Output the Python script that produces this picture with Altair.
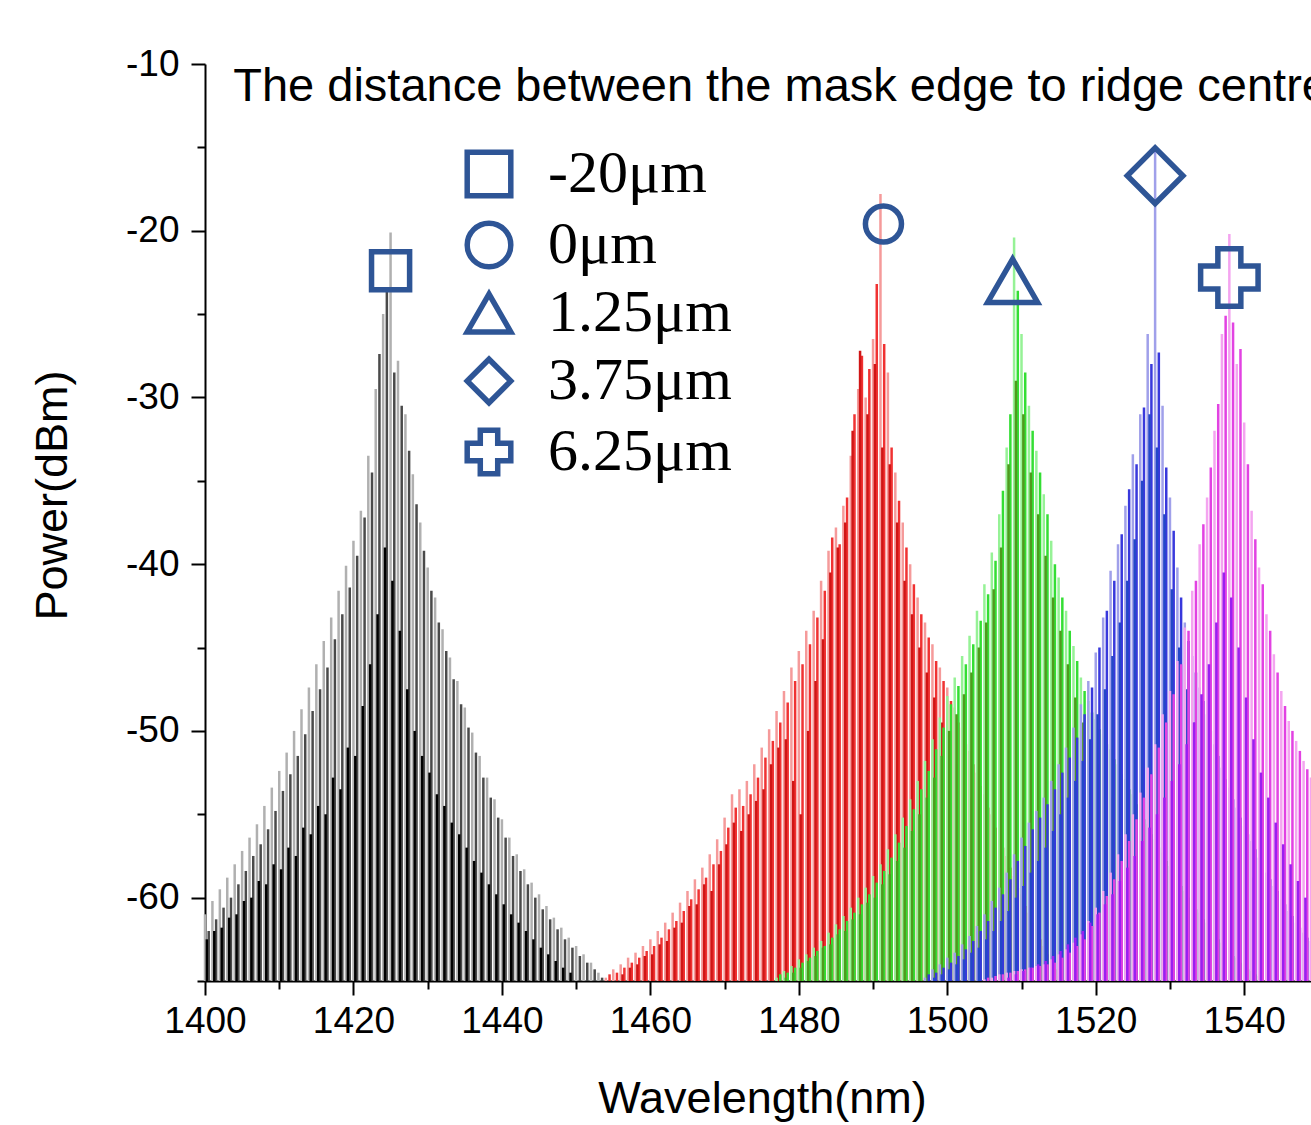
import altair as alt
import pandas as pd

# ---------------- axis ranges / ticks ----------------
X_DOMAIN = [1400, 1549]
Y_DOMAIN = [-65, -10]
X_TICKS = [1400, 1410, 1420, 1430, 1440, 1450, 1460, 1470, 1480, 1490,
           1500, 1510, 1520, 1530, 1540]
Y_TICKS = [-65, -60, -55, -50, -45, -40, -35, -30, -25, -20, -15, -10]

MODE_STEP = 0.5   # nm spacing of the Fabry-Perot modes (outer family)
CORE_STEP = 1.0   # nm spacing of the darker inner family

# ---------------- -20 um (black) ----------------
BLACK_START = 1400.0
BLACK_PEAKS = [
    -61.0, -62.0, -60.2, -61.3, -59.5, -60.6, -58.8, -60.0, -58.0, -59.2,
    -57.2, -58.4, -56.4, -57.5, -55.6, -56.8, -54.5, -55.9, -53.4, -54.8,
    -52.4, -53.6, -51.3, -52.6, -50.0, -51.5, -48.7, -50.2, -47.4, -48.8,
    -46.0, -47.5, -44.6, -46.2, -43.2, -44.5, -41.6, -43.0, -40.1, -41.4,
    -38.6, -39.5, -36.8, -37.2, -33.5, -34.5, -29.5, -27.4, -25.0, -23.4,
    -20.1, -28.5, -27.8, -30.5, -31.0, -33.2, -34.6, -36.4, -37.5, -39.2,
    -40.2, -41.6, -42.0, -43.5, -43.9, -45.2, -45.6, -46.9, -47.0, -48.4,
    -48.6, -49.8, -50.1, -51.3, -51.5, -52.8, -52.8, -54.0, -54.1, -55.2,
    -55.3, -56.4, -56.4, -57.5, -57.4, -58.4, -58.3, -59.2, -59.1, -60.0,
    -59.8, -60.7, -60.5, -61.3, -61.2, -61.9, -61.8, -62.5, -62.4, -63.0,
    -62.9, -63.5, -63.4, -63.9, -63.9, -64.3, -64.5, -64.8,
]
BLACK_CORE_START = 1400.25
BLACK_CORE = [
    -62.5, -62.0, -61.8, -61.2, -61.0, -60.2, -60.0, -59.0, -59.2, -58.0,
    -58.3, -57.0, -57.5, -55.8, -56.2, -54.5, -55.0, -52.8, -53.5, -51.0,
    -51.5, -48.5, -46.0, -43.0, -39.0, -41.0, -44.0, -47.5, -50.0, -51.5,
    -52.5, -53.8, -54.5, -55.5, -56.2, -57.0, -57.8, -58.5, -59.2, -59.8,
    -60.4, -61.0, -61.5, -62.0, -62.5, -63.0, -63.4, -63.8, -64.2, -64.5,
]

# ---------------- 0 um (red) ----------------
RED_START = 1454.0
RED_PEAKS = [
    -64.8, -64.6, -64.3, -64.5, -64.0, -64.2, -63.6, -63.9, -63.3, -63.6,
    -62.9, -63.2, -62.5, -62.9, -62.0, -62.4, -61.5, -61.9, -60.9, -61.4,
    -60.3, -60.8, -59.6, -60.1, -58.9, -59.5, -58.2, -58.8, -57.4, -58.0,
    -56.5, -57.2, -55.2, -55.8, -53.8, -54.6, -53.5, -54.5, -53.0, -53.8,
    -52.0, -52.8, -51.0, -51.6, -49.9, -50.6, -48.8, -49.5, -47.6, -48.3,
    -46.2, -47.0, -45.2, -46.0, -44.0, -44.8, -42.8, -43.2, -41.0, -41.6,
    -39.2, -38.4, -37.8, -38.8, -36.5, -36.0, -33.5, -31.0, -29.5, -27.5,
    -30.0, -28.3, -26.5, -23.2, -17.8, -26.8, -28.5, -33.0, -34.5, -36.2,
    -37.5, -39.0, -40.0, -41.2, -42.0, -43.0, -43.5, -44.4, -44.8, -45.8,
    -46.2, -47.0, -47.4, -48.2, -48.6, -49.5, -49.8, -50.8, -51.2, -52.0,
    -52.5, -53.3, -53.8, -54.6, -55.0, -55.8, -56.3, -57.0, -57.5, -58.2,
    -58.7, -59.4, -59.8, -60.5, -60.9, -61.5, -61.9, -62.5, -62.9, -63.4,
    -63.8, -64.3, -64.7,
]
RED_CORE_START = 1456.25
RED_CORE = [
    -64.6, -64.2, -64.0, -63.5, -63.4, -62.8, -62.6, -61.8, -61.5, -60.5,
    -60.4, -59.2, -59.6, -58.0, -56.8, -55.5, -56.0, -55.0, -54.2, -53.5,
    -52.0, -51.0, -50.5, -53.0, -55.0, -50.0, -47.0, -44.5, -40.5, -39.0,
    -37.5, -32.0, -27.2, -31.0, -28.0, -33.0, -34.0, -37.5, -41.0, -43.0,
    -45.0, -46.5, -48.0, -49.5, -51.0, -52.0, -53.0, -54.0, -55.0, -56.0,
    -57.0, -58.0, -59.0, -60.0, -61.0, -62.0, -63.0, -64.0,
]

# ---------------- 1.25 um (green) ----------------
GREEN_START = 1477.0
GREEN_PEAKS = [
    -64.8, -64.6, -64.4, -64.5, -64.1, -64.2, -63.7, -63.9, -63.4, -63.6,
    -63.0, -63.2, -62.6, -62.9, -62.1, -62.4, -61.6, -61.9, -61.1, -61.4,
    -60.6, -60.9, -60.0, -60.4, -59.4, -59.8, -58.7, -59.1, -58.0, -58.4,
    -57.1, -57.6, -56.2, -56.7, -55.2, -55.7, -54.1, -54.7, -53.0, -53.5,
    -51.8, -52.4, -50.5, -51.1, -49.2, -49.8, -47.9, -48.4, -46.8, -47.3,
    -45.5, -46.0, -44.3, -44.8, -42.8, -43.4, -41.2, -41.8, -39.3, -39.8,
    -37.0, -35.6, -33.0, -31.0, -20.4, -23.6, -26.2, -28.5, -30.5, -32.0,
    -33.2, -34.5, -35.8, -37.0, -38.6, -40.0, -40.8, -42.0, -42.8, -44.0,
    -44.9, -45.8, -46.8, -47.6, -48.2, -48.9, -49.3, -49.9, -50.2, -50.8,
    -51.1, -51.7, -52.0, -52.6, -52.9, -53.5, -53.8, -54.4, -54.7, -55.3,
    -55.6, -56.2, -56.5, -57.0, -57.3, -57.8, -58.1, -58.6, -58.9, -59.3,
    -59.6, -60.0, -60.3, -60.7, -60.9, -61.3, -61.5, -61.9, -62.1, -62.5,
    -62.7, -63.0, -63.2, -63.5, -63.6, -63.9, -64.0, -64.3, -64.4, -64.6,
    -64.7, -64.9,
]
GREEN_CORE_START = 1478.25
GREEN_CORE = [
    -64.8, -64.5, -64.2, -63.8, -63.5, -63.0, -62.8, -62.2, -62.0, -61.3,
    -61.0, -60.3, -60.0, -59.2, -58.6, -57.8, -57.0, -56.0, -55.0, -54.0,
    -52.8, -51.5, -50.0, -49.0, -47.8, -46.5, -45.0, -43.5, -41.5, -39.0,
    -34.0, -29.0, -31.0, -34.5, -37.0, -39.5, -42.0, -44.0, -46.0, -48.0,
    -49.5, -51.0, -52.0, -53.0, -54.0, -55.0, -56.0, -57.0, -58.0, -58.8,
    -59.6, -60.3, -61.0, -61.6, -62.2, -62.8, -63.3, -63.8, -64.2, -64.6,
]

# ---------------- 3.75 um (blue) ----------------
BLUE_START = 1497.0
BLUE_PEAKS = [
    -64.8, -64.6, -64.3, -64.5, -64.0, -64.2, -63.6, -63.9, -63.3, -63.5,
    -62.8, -63.1, -62.3, -62.6, -61.7, -62.0, -61.0, -61.4, -60.2, -60.6,
    -59.4, -59.8, -58.5, -58.9, -57.4, -57.8, -56.4, -56.9, -55.5, -55.9,
    -54.8, -55.2, -54.0, -54.4, -53.0, -53.5, -52.0, -52.5, -51.0, -51.6,
    -49.8, -50.4, -48.4, -49.0, -47.0, -47.4, -45.3, -45.0, -43.2, -42.8,
    -40.4, -41.0, -38.8, -38.2, -36.5, -35.5, -33.4, -34.0, -31.0, -30.6,
    -26.2, -28.0, -15.0, -27.3, -30.5, -34.2, -36.0, -38.0, -40.2, -42.0,
    -43.5, -44.6, -45.5, -46.5, -47.4, -48.2, -49.0, -50.0, -50.8, -51.5,
    -52.2, -52.9, -53.4, -54.1, -54.6, -55.2, -55.7, -56.2, -56.6, -57.1,
    -57.6, -58.0, -58.5, -58.9, -59.3, -59.6, -60.1, -60.4, -60.8, -61.1,
    -61.5, -61.8, -62.1, -62.4, -62.6,
]
BLUE_CORE_START = 1498.25
BLUE_CORE = [
    -64.8, -64.6, -64.3, -64.0, -63.7, -63.3, -63.0, -62.5, -62.0, -61.4,
    -60.8, -60.0, -59.3, -58.5, -57.8, -57.0, -56.0, -55.0, -54.0, -53.0,
    -51.8, -50.5, -49.0, -47.5, -45.5, -43.5, -41.0, -38.5, -35.0, -31.0,
    -33.0, -37.0, -41.5, -45.0, -47.5, -49.5, -51.0, -52.5, -53.8, -55.0,
    -56.0, -57.0, -58.0, -58.8, -59.6, -60.3, -61.0, -61.6, -62.2, -62.8,
    -63.3,
]

# ---------------- 6.25 um (magenta) ----------------
MAGENTA_START = 1505.0
MAGENTA_PEAKS = [
    -64.9, -64.8, -64.8, -64.7, -64.6, -64.6, -64.5, -64.5, -64.4, -64.4,
    -64.3, -64.3, -64.2, -64.2, -64.1, -64.1, -64.0, -64.0, -63.7, -63.9,
    -63.4, -63.6, -63.1, -63.3, -62.7, -62.9, -62.2, -62.5, -61.4, -61.7,
    -60.6, -60.9, -59.6, -59.9, -58.5, -58.9, -57.4, -57.8, -56.2, -56.6,
    -55.0, -55.3, -53.7, -54.0, -52.2, -52.6, -50.8, -51.0, -49.0, -49.5,
    -47.6, -47.8, -45.8, -46.0, -43.8, -44.0, -41.6, -41.0, -38.8, -37.6,
    -36.0, -34.2, -32.0, -30.4, -26.2, -25.1, -20.2, -25.5, -28.0, -27.1,
    -31.5, -34.0, -36.8, -38.5, -40.2, -41.2, -43.0, -44.0, -45.4, -46.5,
    -47.6, -48.5, -49.4, -50.0, -50.6, -51.2, -51.8, -52.3, -52.8,
]
MAGENTA_CORE_START = 1508.25
MAGENTA_CORE = [
    -64.8, -64.6, -64.4, -64.2, -64.0, -63.8, -63.5, -63.2, -62.8, -62.4,
    -62.0, -61.5, -61.0, -60.4, -59.8, -59.0, -58.2, -57.5, -56.6, -55.8,
    -55.0, -54.0, -53.0, -52.0, -50.8, -49.5, -47.8, -46.0, -43.5, -40.5,
    -42.0, -45.0, -48.0, -50.5, -52.5, -54.0, -55.5, -56.8, -58.0, -59.0,
    -60.0,
]

# ---------------- legend / peak markers ----------------
LABELS = ["-20\u03bcm", "0\u03bcm", "1.25\u03bcm", "3.75\u03bcm", "6.25\u03bcm"]
SHAPES = ["square", "circle", "triangle-up", "diamond", "cross"]
MARK_WL = [1425.0, 1491.4, 1508.8, 1528.0, 1538.0]
MARK_P = [-22.4, -19.6, -23.0, -16.7, -22.8]
MARK_SIZE = [1450, 1300, 2500, 3100, 3300]
NOTE = "The distance between the mask edge to ridge centre"

MARK_COLOR = "#2e5596"
PALETTE = {
    "black": ("#b0b0b0", "#4a4a4a", "#000000"),
    "red": ("#f59a9a", "#f03232", "#d01515"),
    "green": ("#96f296", "#34de34", "#4f9a1e"),
    "blue": ("#a0a0ea", "#3838dc", "#2447c8"),
    "magenta": ("#f4a4f0", "#e242e2", "#9a1ff0"),
}

SERIES = [
    ("black", BLACK_START, BLACK_PEAKS, BLACK_CORE_START, BLACK_CORE),
    ("red", RED_START, RED_PEAKS, RED_CORE_START, RED_CORE),
    ("green", GREEN_START, GREEN_PEAKS, GREEN_CORE_START, GREEN_CORE),
    ("blue", BLUE_START, BLUE_PEAKS, BLUE_CORE_START, BLUE_CORE),
    ("magenta", MAGENTA_START, MAGENTA_PEAKS, MAGENTA_CORE_START, MAGENTA_CORE),
]

rows = []
for name, start, peaks, cstart, core in SERIES:
    light, mid, dark = PALETTE[name]
    for i, p in enumerate(peaks):
        rows.append({"wl": start + i * MODE_STEP, "p": p,
                     "col": light if i % 2 == 0 else mid})
    for i, p in enumerate(core):
        rows.append({"wl": cstart + i * CORE_STEP, "p": p, "col": dark})
lines_df = pd.DataFrame(rows)

marks_df = pd.DataFrame({"label": LABELS, "wl": MARK_WL, "p": MARK_P,
                         "size": MARK_SIZE})

SANS = "Liberation Sans"
SERIF = "Liberation Serif"

x_axis = alt.Axis(
    values=X_TICKS,
    labelExpr="datum.value % 20 === 0 ? '' + datum.value : ''",
    tickSize={"condition": {"test": "datum.value % 20 === 0", "value": 14}, "value": 8},
    tickWidth=2, tickColor="black", domainWidth=2, domainColor="black",
    labelFont=SANS, labelFontSize=37, labelColor="black", labelPadding=8,
    labelFlush=False, grid=False,
    title="Wavelength(nm)", titleFont=SANS, titleFontSize=45,
    titleFontWeight="normal", titleColor="black", titleX=557, titleY=95,
)
y_axis = alt.Axis(
    values=Y_TICKS,
    labelExpr="datum.value % 10 === 0 ? '' + datum.value : ''",
    tickSize={"condition": {"test": "datum.value % 10 === 0", "value": 14}, "value": 8},
    tickWidth=2, tickColor="black", domainWidth=2, domainColor="black",
    labelFont=SANS, labelFontSize=37, labelColor="black", labelPadding=12,
    labelFlush=False, grid=False,
    title="Power(dBm)", titleFont=SANS, titleFontSize=45,
    titleFontWeight="normal", titleColor="black", titleX=-130, titleY=431,
)

xs = alt.Scale(domain=X_DOMAIN, nice=False, zero=False)
ys = alt.Scale(domain=Y_DOMAIN, nice=False, zero=False)

spectra = alt.Chart(lines_df).mark_rule(strokeWidth=2.5).encode(
    x=alt.X("wl:Q", scale=xs, axis=x_axis),
    y=alt.Y("p:Q", scale=ys, axis=y_axis),
    y2=alt.datum(Y_DOMAIN[0]),
    color=alt.Color("col:N", scale=None),
)

markers = alt.Chart(marks_df).mark_point(
    filled=False, strokeWidth=5.5, color=MARK_COLOR, opacity=1
).encode(
    x=alt.X("wl:Q", scale=xs),
    y=alt.Y("p:Q", scale=ys),
    shape=alt.Shape(
        "label:N",
        scale=alt.Scale(domain=LABELS, range=SHAPES),
        legend=alt.Legend(
            title=None, orient="none", legendX=254, legendY=80,
            labelFont=SERIF, labelFontSize=60, labelColor="black",
            labelOffset=29, symbolSize=1900, symbolStrokeWidth=5.5,
            symbolStrokeColor=MARK_COLOR, symbolFillColor="transparent",
            rowPadding=5, padding=0, labelLimit=0,
        ),
    ),
    size=alt.Size("size:Q", scale=None, legend=None),
)

note = alt.Chart(pd.DataFrame({"t": [NOTE]})).mark_text(
    align="left", baseline="alphabetic", font=SANS, fontSize=47, color="black"
).encode(
    x=alt.datum(1403.8), y=alt.datum(-12.2), text="t:N"
)

chart = alt.layer(spectra, markers, note).properties(
    width=1106, height=917,
    autosize=alt.AutoSizeParams(type="none"),
    padding={"left": 205, "top": 64, "right": 0, "bottom": 142},
    background="white",
).configure_view(stroke=None)

chart.save("out.html", embed_options={"renderer": "svg", "actions": False})
